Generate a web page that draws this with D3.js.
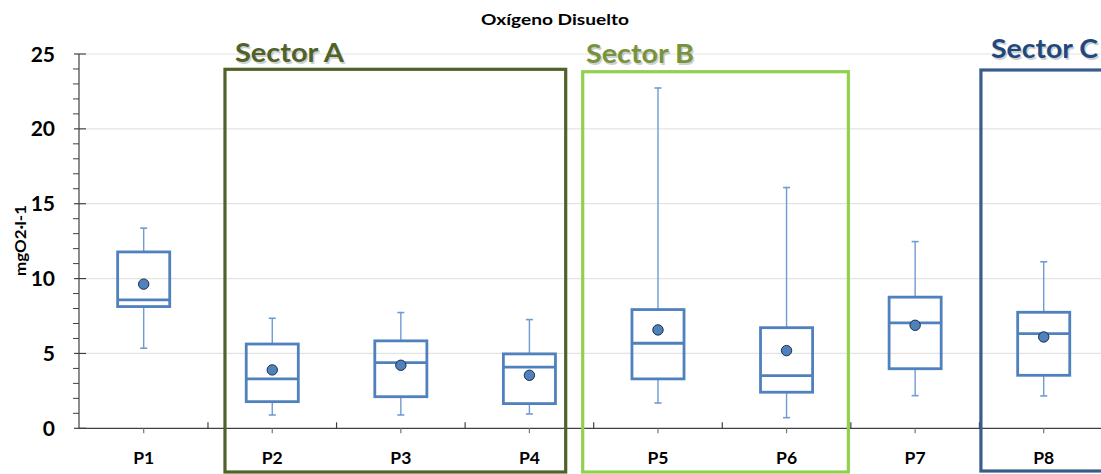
<!DOCTYPE html>
<html><head><meta charset="utf-8">
<script src="https://cdn.jsdelivr.net/npm/d3@7"></script>
<style>body{margin:0;background:#fff;} svg{display:block;font-family:Lato,"Open Sans",sans-serif;}</style>
</head><body>
<svg id="c" width="1101" height="474"></svg>
<script>
const categories = ["P1","P2","P3","P4","P5","P6","P7","P8"];
const whiskerLow  = [5.35, 0.89, 0.89, 0.96, 1.69, 0.71, 2.18, 2.16];
const q1          = [8.13, 1.78, 2.11, 1.65, 3.30, 2.41, 3.98, 3.54];
const median      = [8.58, 3.30, 4.39, 4.08, 5.68, 3.52, 7.04, 6.32];
const q3          = [11.78, 5.63, 5.84, 4.97, 7.93, 6.72, 8.76, 7.75];
const whiskerHigh = [13.37, 7.35, 7.73, 7.26, 22.73, 16.08, 12.47, 11.12];
const mean        = [9.63, 3.90, 4.21, 3.54, 6.57, 5.19, 6.88, 6.10];
const yTicks = [0, 5, 10, 15, 20, 25];
const sectors = [
  {name:"Sector A", from:"P2", to:"P4"},
  {name:"Sector B", from:"P5", to:"P6"},
  {name:"Sector C", from:"P8", to:"P8"}
];

const svg = d3.select("#c");
const x = d3.scaleBand().domain(categories).range([79.4, 1108]).padding(0);
const y = d3.scaleLinear().domain([0, 25]).range([428.3, 54]);
const bw = x.bandwidth();
const boxW = bw * 0.405;

// gridlines
svg.append("g").selectAll("line").data(yTicks.filter(d=>d>0)).join("line")
  .attr("x1", 86).attr("x2", 1101).attr("y1", d=>y(d)).attr("y2", d=>y(d))
  .attr("stroke", "#e3e3e3").attr("stroke-width", 1.2);

// y axis
const ax = svg.append("g").attr("stroke", "#404040");
ax.append("line").attr("x1",79).attr("x2",79).attr("y1",y(25)).attr("y2",y(0)).attr("stroke-width",1.2);
ax.selectAll(".mn").data(d3.range(0,26).filter(d=>d%5!==0)).join("line")
  .attr("x1",73).attr("x2",79).attr("y1",d=>y(d)).attr("y2",d=>y(d)).attr("stroke-width",1);
ax.selectAll(".mj").data(yTicks).join("line")
  .attr("x1",74).attr("x2",86).attr("y1",d=>y(d)).attr("y2",d=>y(d)).attr("stroke-width",1.2);
svg.append("g").selectAll("text").data(yTicks).join("text")
  .attr("x",55).attr("y",d=>y(d)+7.5).attr("text-anchor","end")
  .attr("font-size",21).attr("font-weight","bold").attr("fill","#000").text(d=>d);

// x axis
ax.append("line").attr("x1",79).attr("x2",1101).attr("y1",y(0)).attr("y2",y(0)).attr("stroke-width",1.2);
ax.selectAll(".bt").data(categories.slice(1).concat(["end"])).join("line")
  .attr("x1",(d,i)=>x.range()[0]+bw*(i+1)).attr("x2",(d,i)=>x.range()[0]+bw*(i+1))
  .attr("y1",y(0)-6).attr("y2",y(0)).attr("stroke-width",1.2);
ax.selectAll(".ct").data(categories).join("line")
  .attr("x1",d=>x(d)+bw/2).attr("x2",d=>x(d)+bw/2)
  .attr("y1",y(0)).attr("y2",y(0)+5).attr("stroke","#777").attr("stroke-width",1.2);
svg.append("g").selectAll("text").data(categories).join("text")
  .attr("x",d=>x(d)+bw/2-10.5).attr("y",463.5)
  .attr("font-size",17).attr("font-weight","bold").attr("fill","#000")
  .attr("textLength",21).attr("lengthAdjust","spacingAndGlyphs").text(d=>d);

// boxes
const g = svg.append("g");
categories.forEach((c,i)=>{
  const cx = x(c)+bw/2;
  const wc = "#6f9bd3";
  g.append("line").attr("x1",cx).attr("x2",cx).attr("y1",y(q3[i])).attr("y2",y(whiskerHigh[i])).attr("stroke",wc).attr("stroke-width",1.4);
  g.append("line").attr("x1",cx).attr("x2",cx).attr("y1",y(q1[i])).attr("y2",y(whiskerLow[i])).attr("stroke",wc).attr("stroke-width",1.4);
  [whiskerHigh[i], whiskerLow[i]].forEach(v=>{
    g.append("line").attr("x1",cx-3.5).attr("x2",cx+3.5).attr("y1",y(v)).attr("y2",y(v)).attr("stroke",wc).attr("stroke-width",1.6);
  });
  g.append("rect").attr("x",cx-boxW/2).attr("width",boxW)
    .attr("y",y(q3[i])).attr("height",y(q1[i])-y(q3[i]))
    .attr("fill","none").attr("stroke","#4f81bd").attr("stroke-width",2.8);
  g.append("line").attr("x1",cx-boxW/2).attr("x2",cx+boxW/2).attr("y1",y(median[i])).attr("y2",y(median[i]))
    .attr("stroke","#4f81bd").attr("stroke-width",2.8);
  g.append("circle").attr("cx",cx).attr("cy",y(mean[i])).attr("r",5.2)
    .attr("fill","#4f81bd").attr("stroke","#1d2e45").attr("stroke-width",1);
});

// sector frames
const frames = {
  "Sector A": {l: x("P2")+17, r: x("P4")+bw-28, t:69.3, b:472, stroke:"#4f6228", text:"#4f6228", tx:235, ty:62, tw:109},
  "Sector B": {l: x("P5")-11, r: x("P6")+bw-2.5, t:71.7, b:472, stroke:"#92d050", text:"#77933c", tx:586, ty:63.3, tw:108},
  "Sector C": {l: x("P8")+1.5, r: x("P8")+bw+20, t:70, b:471, stroke:"#385d8a", text:"#1f497d", tx:991, ty:58.3, tw:107}
};
sectors.forEach(s=>{
  const f = frames[s.name];
  svg.append("rect").attr("x",f.l).attr("y",f.t).attr("width",f.r-f.l).attr("height",f.b-f.t)
    .attr("fill","none").attr("stroke",f.stroke).attr("stroke-width",3.2);
  svg.append("text").attr("x",f.tx+1.5).attr("y",f.ty+1.5).attr("font-size",27).attr("font-weight","bold")
    .attr("fill","#000").attr("opacity",0.18).attr("textLength",f.tw).attr("lengthAdjust","spacingAndGlyphs").text(s.name);
  svg.append("text").attr("x",f.tx).attr("y",f.ty).attr("font-size",27).attr("font-weight","bold")
    .attr("fill",f.text).attr("textLength",f.tw).attr("lengthAdjust","spacingAndGlyphs").text(s.name);
});

// title
svg.append("text").attr("x",481).attr("y",25).attr("font-size",16).attr("font-weight","bold")
  .attr("fill","#000").attr("textLength",148).attr("lengthAdjust","spacingAndGlyphs").text("Oxígeno Disuelto");
// y label
svg.append("text").attr("transform","translate(26,276) rotate(-90)")
  .attr("font-size",15).attr("font-weight","bold").attr("fill","#000")
  .attr("textLength",71).attr("lengthAdjust","spacingAndGlyphs").text("mgO2·l-1");
</script>
</body></html>
